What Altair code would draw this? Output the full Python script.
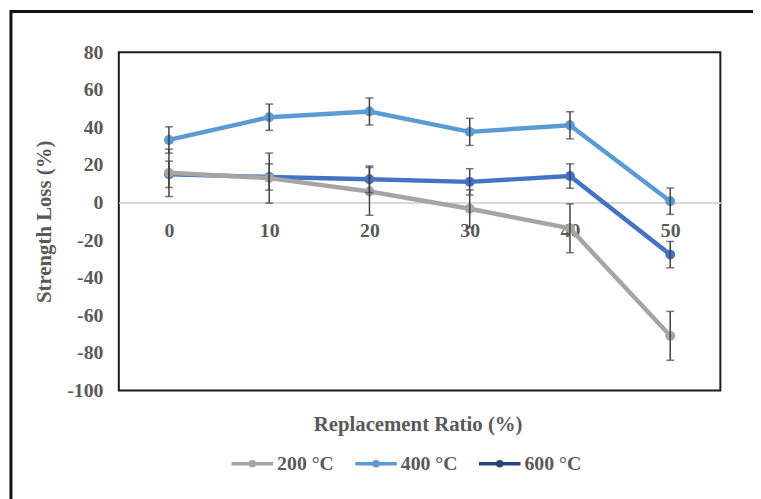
import altair as alt
import pandas as pd

ratios = ["0", "10", "20", "30", "40", "50"]
temps = ["200 °C", "400 °C", "600 °C"]
loss_200 = [15.8, 13.0, 5.9, -3.3, -13.7, -70.9]
err_200 = [12.6, 13.3, 12.7, 10.0, 13.0, 13.0]
loss_400 = [33.3, 45.4, 48.4, 37.6, 41.1, 0.7]
err_400 = [7.0, 7.0, 7.2, 7.2, 7.2, 7.0]
loss_600 = [15.0, 13.6, 12.4, 11.0, 14.1, -27.7]
err_600 = [7.0, 7.0, 7.0, 7.0, 6.5, 7.0]
line_colors = ["#A5A5A5", "#5B9BD5", "#4472C4"]
legend_colors = ["#A5A5A5", "#5B9BD5", "#264478"]

rows = []
for t, vals, errs in zip(temps, [loss_200, loss_400, loss_600], [err_200, err_400, err_600]):
    for r, v, e in zip(ratios, vals, errs):
        rows.append({"ratio": r, "temp": t, "loss": v, "lo": v - e, "hi": v + e})
df = pd.DataFrame(rows)

FONT = "Liberation Serif"
GREY = "#595959"
W, H = 608, 342

x_axis = alt.Axis(title="Replacement Ratio (%)", orient="bottom", offset=-190,
                  domainColor="#D9D9D9", domainWidth=2, ticks=False, tickSize=0,
                  labelAngle=0, labelPadding=18, labelFont=FONT, labelFontSize=20,
                  labelFontWeight="bold", labelColor=GREY, grid=False,
                  titleFont=FONT, titleFontSize=21, titleFontWeight="bold",
                  titleColor=GREY, titleY=224, titleBaseline="middle", titleX=302)
x_enc = alt.X("ratio:O", sort=ratios, scale=alt.Scale(type="point", padding=0.5), axis=x_axis)

y_scale = alt.Scale(domain=[-100, 80], nice=False, zero=False)
y_axis = alt.Axis(values=list(range(-100, 81, 20)), title="Strength Loss (%)",
                  domain=False, ticks=False, tickSize=0, grid=False,
                  labelOverlap=False, labelExpr="'' + datum.value",
                  labelPadding=16, labelFont=FONT, labelFontSize=20,
                  labelFontWeight="bold", labelColor=GREY,
                  titleFont=FONT, titleFontSize=21, titleFontWeight="bold",
                  titleColor=GREY, titleX=-75, titleY=H / 2, titleAngle=-90,
                  titleAlign="center", titleBaseline="middle")


def yq(field):
    return alt.Y(f"{field}:Q", scale=y_scale, axis=y_axis)


base = alt.Chart(df)

frame = alt.Chart(pd.DataFrame({"a": [0]})).mark_rect(
    fill=None, stroke="#111111", strokeWidth=3, clip=False
).encode(x=alt.value(-109), x2=alt.value(900), y=alt.value(-41), y2=alt.value(700))

color_lines = alt.Color("temp:N", scale=alt.Scale(domain=temps, range=line_colors), legend=None)

layers = [frame]
for t in ["600 °C", "400 °C", "200 °C"]:
    sub = base.transform_filter(alt.datum.temp == t)
    layers.append(sub.mark_line(strokeWidth=4.5).encode(x=x_enc, y=yq("loss"), color=color_lines))
    layers.append(sub.mark_point(filled=True, size=100, opacity=1).encode(
        x=x_enc, y=yq("loss"), color=color_lines))

err_color = "#404040"
layers.append(base.mark_rule(color=err_color, strokeWidth=1.5).encode(
    x=x_enc, y=yq("lo"), y2="hi:Q"))
layers.append(base.mark_tick(color=err_color, thickness=1.5, size=8).encode(
    x=x_enc, y=yq("lo")))
layers.append(base.mark_tick(color=err_color, thickness=1.5, size=8).encode(
    x=x_enc, y=yq("hi")))

legend_layer = base.transform_filter("false").mark_line(strokeWidth=3).encode(
    x=x_enc, y=yq("loss"),
    color=alt.Color("temp:N", scale=alt.Scale(domain=temps, range=legend_colors),
                    legend=alt.Legend(title=None, orient="none", legendX=112, legendY=393,
                                      direction="horizontal",
                                      symbolType="M-1,0L1,0M-0.1,0A0.1,0.1,0,1,1,0.1,0A0.1,0.1,0,1,1,-0.1,0",
                                      symbolSize=1764, symbolStrokeWidth=3.5,
                                      labelFont=FONT, labelFontSize=20, labelFontWeight="bold",
                                      labelColor=GREY, labelOffset=2, columnPadding=14,
                                      padding=0)))
layers.append(legend_layer)

chart = alt.layer(*layers).resolve_scale(color="independent").properties(
    width=W, height=H,
    background="white",
    autosize=alt.AutoSizeParams(type="none"),
    padding={"left": 112, "top": 42, "right": 33, "bottom": 107},
).configure_view(stroke="#1a1a1a", strokeWidth=2)

chart.save("out.html", embed_options={"renderer": "svg", "actions": False})
